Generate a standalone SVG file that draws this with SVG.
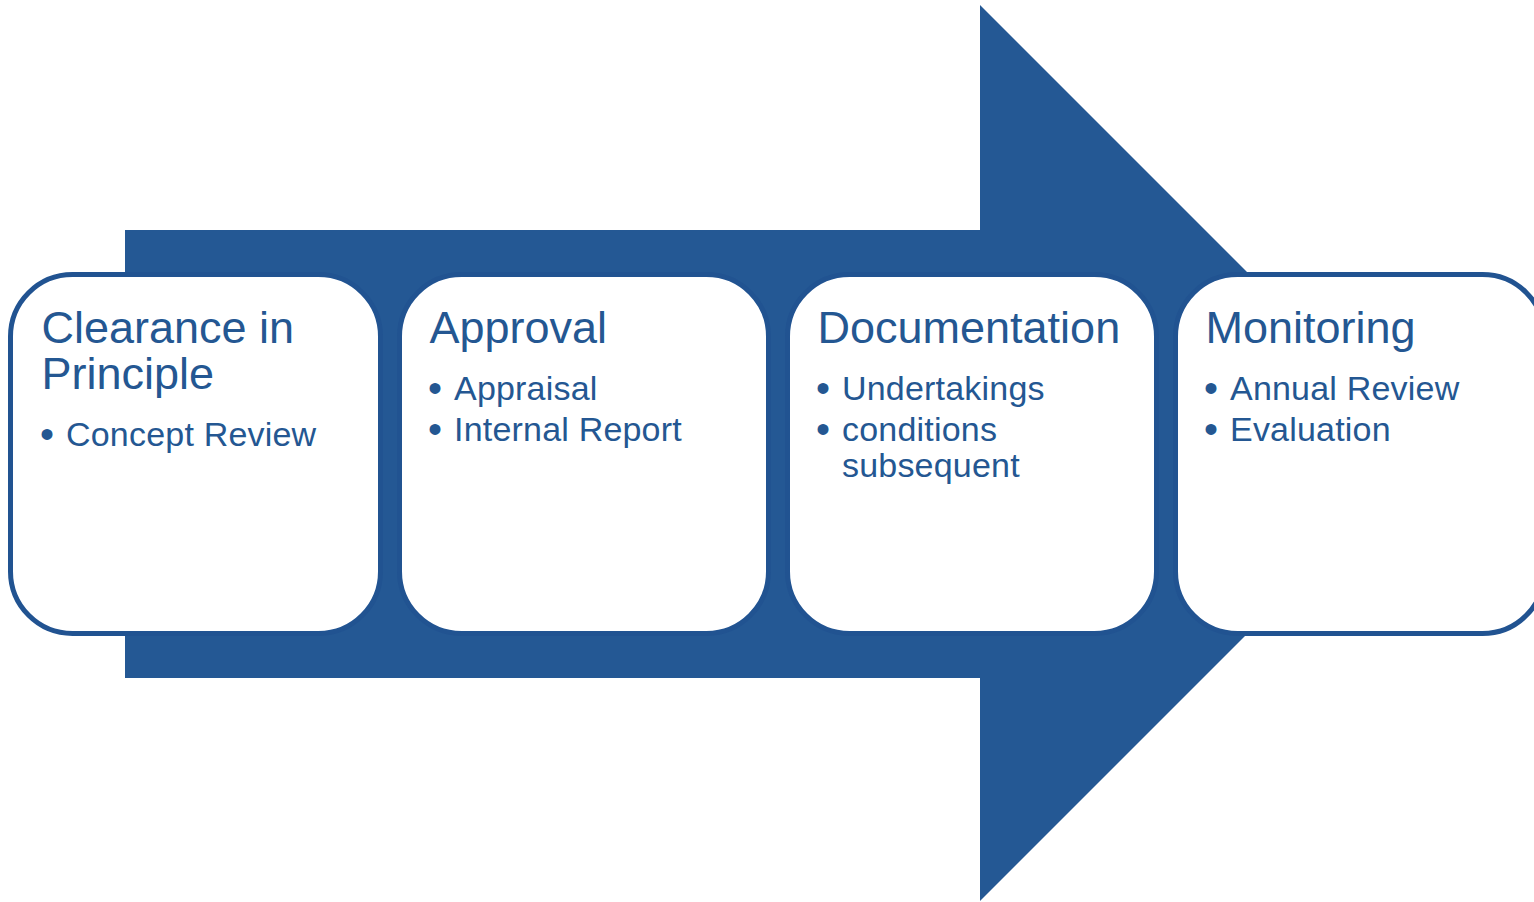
<svg xmlns="http://www.w3.org/2000/svg" width="1534" height="902" viewBox="0 0 1534 902">
<style>
.box{fill:#ffffff;stroke:#215391;stroke-width:5}
.t{font-family:"Liberation Sans",Arial,sans-serif;fill:#245792}
.h{font-size:45px}
.b{font-size:34px;letter-spacing:0.2px}
.d{font-size:40px}
</style>
<rect width="1534" height="902" fill="#ffffff"/>
<g id="arrow">
<polygon points="125,230 980,230 980,5 1428,453 980,901 980,678 125,678" fill="#245894"/>
</g>
<g id="node1">
<rect class="box" x="10.5" y="274.5" width="370" height="359" rx="62"/>
<text class="t h" x="41.5" y="343">Clearance in</text>
<text class="t h" x="41.5" y="389">Principle</text>
<text class="t d" x="40" y="448">•</text>
<text class="t b" x="66" y="446">Concept Review</text>
</g>
<g id="node2">
<rect class="box" x="399.5" y="274.5" width="369" height="359" rx="62"/>
<text class="t h" x="429.5" y="343">Approval</text>
<text class="t d" x="428" y="402">•</text>
<text class="t b" x="454" y="400">Appraisal</text>
<text class="t d" x="428" y="443">•</text>
<text class="t b" x="454" y="441">Internal Report</text>
</g>
<g id="node3">
<rect class="box" x="787.5" y="274.5" width="369" height="359" rx="62"/>
<text class="t h" x="817.5" y="343">Documentation</text>
<text class="t d" x="816" y="402">•</text>
<text class="t b" x="842" y="400">Undertakings</text>
<text class="t d" x="816" y="443">•</text>
<text class="t b" x="842" y="441">conditions</text>
<text class="t b" x="842" y="477">subsequent</text>
</g>
<g id="node4">
<rect class="box" x="1175.5" y="274.5" width="369" height="359" rx="62"/>
<text class="t h" x="1205.5" y="343">Monitoring</text>
<text class="t d" x="1204" y="402">•</text>
<text class="t b" x="1230" y="400">Annual Review</text>
<text class="t d" x="1204" y="443">•</text>
<text class="t b" x="1230" y="441">Evaluation</text>
</g>
<g id="connectors"></g>
</svg>
